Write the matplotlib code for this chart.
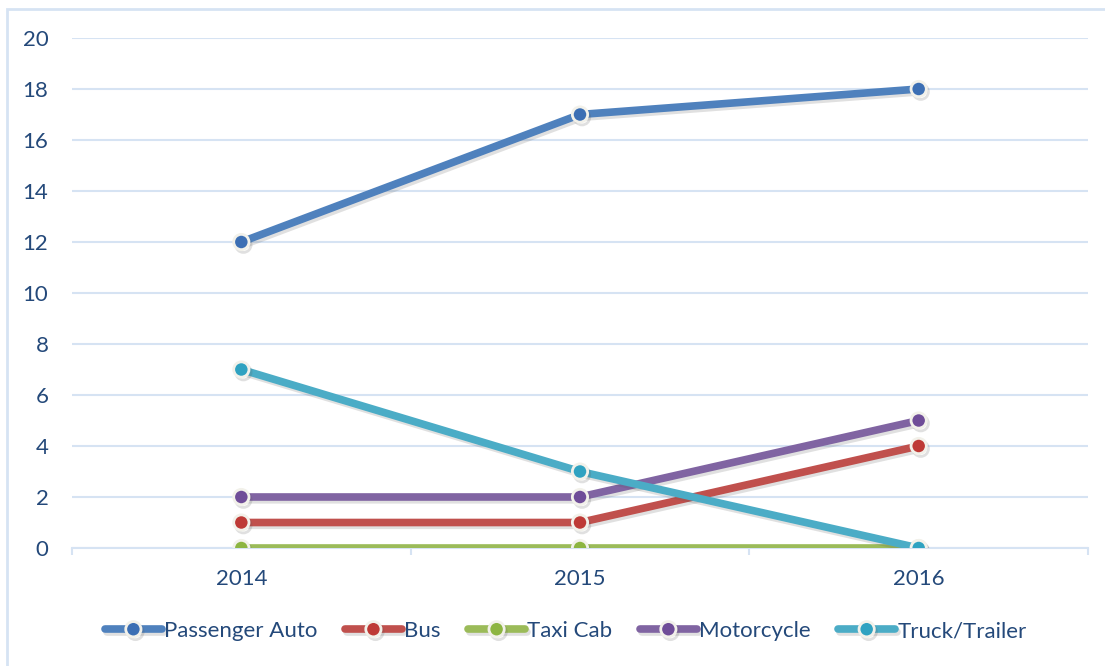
import matplotlib.pyplot as plt
import matplotlib.patheffects as pe
from matplotlib.patches import Rectangle

plt.rcParams["font.family"] = ["Lato", "DejaVu Sans"]

years = ["2014", "2015", "2016"]
passenger_auto = [12, 17, 18]
bus = [1, 1, 4]
taxi_cab = [0, 0, 0]
motorcycle = [2, 2, 5]
truck_trailer = [7, 3, 0]

series = [
    ("Passenger Auto", passenger_auto, "#4F81BD", "#3C6FB4"),
    ("Bus", bus, "#C0504D", "#BE3A36"),
    ("Taxi Cab", taxi_cab, "#9BBB59", "#8DB541"),
    ("Motorcycle", motorcycle, "#8064A2", "#6F4D98"),
    ("Truck/Trailer", truck_trailer, "#4BACC6", "#2FA2C1"),
]

text_col = "#24497A"
grid_col = "#D6E3F3"
fs = 16

fig = plt.figure(figsize=(11.05, 6.66), dpi=100)
ax = fig.add_axes([72 / 1105, 1 - 548 / 666, (1088 - 72) / 1105, (548 - 38) / 666])

x = list(range(len(years)))
for name, vals, col, mcol in series:
    ax.plot(x, vals, color=col, lw=5.5, solid_capstyle="round", zorder=3,
            marker="o", markersize=11, markerfacecolor=mcol,
            markeredgecolor="#F2F1EA", markeredgewidth=2, label=name,
            path_effects=[pe.SimpleLineShadow(offset=(1.5, -2), alpha=0.18,
                                              shadow_color="#555555"),
                          pe.Normal()])

ax.set_xlim(-0.5, len(years) - 0.5)
ax.set_ylim(0, 20)
ax.set_yticks(range(0, 21, 2))
ax.set_xticks(x)
ax.set_xticklabels(years)
ax.set_xticks([-0.5, 0.5, 1.5, 2.5], minor=True)
ax.tick_params(axis="x", which="major", length=0, pad=15, labelsize=fs,
               labelcolor=text_col)
ax.tick_params(axis="x", which="minor", length=5, width=1.5, color=grid_col)
ax.tick_params(axis="y", length=0, pad=17, labelsize=fs, labelcolor=text_col)
ax.grid(axis="y", color=grid_col, lw=1.5)
ax.set_axisbelow(True)
for s in ["top", "left", "right"]:
    ax.spines[s].set_visible(False)
ax.spines["bottom"].set_color(grid_col)
ax.spines["bottom"].set_linewidth(1.5)

fig.legend(loc="center", bbox_to_anchor=(0.512, 1 - 631 / 666), ncol=5,
           frameon=False, fontsize=fs, labelcolor=text_col, handlelength=2.55,
           handletextpad=0.1, columnspacing=1.25)

# outer chart frame
fig.add_artist(Rectangle((7 / 1105, -0.1), 1.2, 1.1 - 9 / 666,
                         transform=fig.transFigure, fill=False,
                         edgecolor=grid_col, lw=2))

fig.savefig("out.png", dpi=100)
